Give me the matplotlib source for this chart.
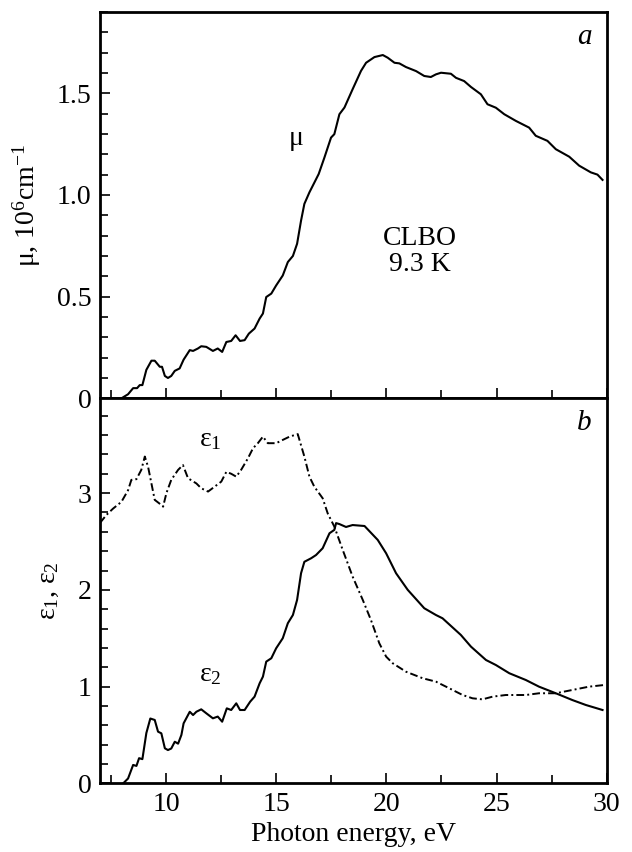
import matplotlib
matplotlib.use("Agg")
import matplotlib.pyplot as plt
from matplotlib.ticker import MultipleLocator, FixedLocator, FixedFormatter

plt.rcParams['font.family'] = ['Liberation Serif', 'DejaVu Serif']
plt.rcParams['mathtext.fontset'] = 'custom'
plt.rcParams['mathtext.rm'] = 'Liberation Serif'
plt.rcParams['mathtext.it'] = 'Liberation Serif:italic'

# absorption coefficient mu, 10^6 cm^-1
mu_E = [7.98, 8.28, 8.51, 8.69, 8.81, 8.93, 9.11, 9.34, 9.49, 9.72, 9.82, 9.95, 10.09,
        10.24, 10.40, 10.62, 10.80, 11.08, 11.23, 11.45, 11.60, 11.83, 12.13, 12.35,
        12.55, 12.74, 12.96, 13.16, 13.36, 13.57, 13.76, 14.02, 14.25, 14.40, 14.55,
        14.78, 15.00, 15.30, 15.53, 15.76, 15.95, 16.13, 16.28, 16.51, 16.73, 16.93,
        17.19, 17.49, 17.64, 17.87, 18.10, 18.47, 18.85, 19.08, 19.46, 19.84, 20.06,
        20.37, 20.59, 20.89, 21.35, 21.72, 22.02, 22.25, 22.48, 22.93, 23.16, 23.53,
        23.84, 24.29, 24.59, 24.97, 25.35, 25.88, 26.48, 26.78, 27.31, 27.69, 28.30,
        28.75, 29.28, 29.58, 29.81]
mu = [0.0, 0.02, 0.05, 0.05, 0.065, 0.065, 0.14, 0.185, 0.185, 0.155, 0.155, 0.11, 0.10,
      0.11, 0.135, 0.147, 0.19, 0.237, 0.233, 0.245, 0.256, 0.253, 0.233, 0.245,
      0.228, 0.277, 0.282, 0.31, 0.282, 0.286, 0.318, 0.343, 0.392, 0.417, 0.498,
      0.515, 0.555, 0.604, 0.67, 0.70, 0.76, 0.874, 0.956, 1.013, 1.06, 1.103,
      1.184, 1.282, 1.299, 1.397, 1.43, 1.52, 1.61, 1.65, 1.678, 1.688, 1.675,
      1.65, 1.647, 1.629, 1.609, 1.585, 1.58, 1.593, 1.601, 1.596, 1.576, 1.56,
      1.531, 1.495, 1.446, 1.429, 1.397, 1.364, 1.331, 1.291, 1.266, 1.225, 1.188,
      1.144, 1.111, 1.10, 1.074]

# imaginary part eps2
e2_E = [8.06, 8.28, 8.51, 8.66, 8.78, 8.93, 9.11, 9.29, 9.49, 9.64, 9.79, 9.95, 10.09,
        10.24, 10.40, 10.55, 10.70, 10.80, 11.08, 11.23, 11.38, 11.60, 11.83, 12.13,
        12.35, 12.55, 12.76, 12.96, 13.19, 13.36, 13.57, 13.82, 14.02, 14.25, 14.40,
        14.55, 14.78, 15.00, 15.30, 15.53, 15.76, 15.95, 16.13, 16.28, 16.59, 16.81,
        17.11, 17.42, 17.64, 17.72, 17.87, 18.17, 18.47, 19.01, 19.61, 19.99, 20.44,
        20.97, 21.72, 22.25, 22.55, 23.38, 23.84, 24.52, 24.97, 25.58, 26.33, 26.93,
        27.69, 28.44, 29.05, 29.81]
e2 = [0.0, 0.05, 0.19, 0.18, 0.26, 0.25, 0.52, 0.67, 0.655, 0.534, 0.517, 0.362, 0.344,
      0.36, 0.43, 0.41, 0.5, 0.62, 0.74, 0.706, 0.74, 0.765, 0.724, 0.672,
      0.69, 0.637, 0.775, 0.758, 0.827, 0.758, 0.758, 0.844, 0.896, 1.034, 1.103,
      1.258, 1.293, 1.396, 1.50, 1.655, 1.74, 1.896, 2.172, 2.29, 2.327, 2.36,
      2.43, 2.585, 2.62, 2.69, 2.68, 2.65, 2.67, 2.66, 2.516, 2.378, 2.172,
      2.0, 1.81, 1.74, 1.706, 1.534, 1.413, 1.275, 1.223, 1.138, 1.068, 0.999,
      0.931, 0.861, 0.81, 0.758]

# real part eps1
e1_E = [7.0, 7.30, 7.60, 7.98, 8.28, 8.43, 8.66, 8.88, 9.04, 9.19, 9.49, 9.69, 9.87,
        10.02, 10.24, 10.55, 10.77, 11.0, 11.38, 11.60, 11.91, 12.21, 12.51, 12.74,
        12.96, 13.19, 13.41, 13.72, 13.95, 14.17, 14.40, 14.62, 15.00, 15.30, 15.61,
        15.98, 16.28, 16.51, 16.73, 17.11, 17.34, 17.64, 18.02, 18.47, 18.93, 19.30,
        19.68, 19.99, 20.29, 20.89, 21.65, 22.25, 22.86, 23.46, 23.91, 24.36, 24.82,
        25.42, 26.33, 26.93, 27.69, 28.44, 29.19, 29.87]
e1 = [2.69, 2.775, 2.84, 2.91, 3.03, 3.137, 3.144, 3.24, 3.378, 3.27, 2.93, 2.895, 2.86,
      3.0, 3.137, 3.24, 3.29, 3.154, 3.10, 3.05, 3.016, 3.067, 3.119, 3.22,
      3.20, 3.17, 3.24, 3.36, 3.464, 3.516, 3.584, 3.516, 3.516, 3.55, 3.584,
      3.61, 3.378, 3.17, 3.067, 2.947, 2.79, 2.654, 2.413, 2.137, 1.896, 1.689,
      1.448, 1.31, 1.241, 1.154, 1.086, 1.051, 0.982, 0.913, 0.879, 0.868, 0.896,
      0.913, 0.913, 0.931, 0.931, 0.965, 0.999, 1.016]

mu_ticks = [0, 0.5, 1.0, 1.5]
mu_labels = ['0', '0.5', '1.0', '1.5']
eps_ticks = [0, 1, 2, 3]
eps_labels = ['0', '1', '2', '3']

FS = 20

fig = plt.figure(figsize=(6.32, 8.52), dpi=100)
ax1 = fig.add_axes([0.158, 0.5325, 0.802, 0.4535])
ax2 = fig.add_axes([0.158, 0.0806, 0.802, 0.4519], sharex=ax1)

lw = 1.5
ax1.plot(mu_E, mu, color='black', lw=lw)
ax2.plot(e2_E, e2, color='black', lw=lw)
# dash-dot for eps1
ax2.plot(e1_E, e1, color='black', lw=1.4, linestyle=(0, (4, 1.6, 1, 1.6)))

ax1.set_xlim(7, 30)
ax1.set_ylim(0, 1.9)
ax2.set_ylim(0, 3.98)

for ax in (ax1, ax2):
    for s in ax.spines.values():
        s.set_linewidth(2)
    ax.xaxis.set_major_locator(MultipleLocator(5))
    ax.xaxis.set_minor_locator(MultipleLocator(2.5))
    ax.tick_params(which='both', direction='in', top=False, right=False,
                   labelsize=FS, width=1.2, pad=6)
    ax.tick_params(which='major', length=7.5)
    ax.tick_params(which='minor', length=5.5)

ax1.yaxis.set_major_locator(FixedLocator(mu_ticks))
ax1.yaxis.set_major_formatter(FixedFormatter(mu_labels))
ax1.yaxis.set_minor_locator(MultipleLocator(0.1))
ax1.tick_params(axis='x', labelbottom=False)

ax2.yaxis.set_major_locator(FixedLocator(eps_ticks))
ax2.yaxis.set_major_formatter(FixedFormatter(eps_labels))
ax2.yaxis.set_minor_locator(MultipleLocator(0.2))

ax1.set_ylabel(r'μ, 10$^6$cm$^{-1}$', fontsize=FS, labelpad=10)
ax2.set_ylabel(r'ε$_1$, ε$_2$', fontsize=FS, labelpad=12)
ax2.set_xlabel('Photon energy, eV', fontsize=FS, labelpad=4)

ax1.text(15.9, 1.28, 'μ', fontsize=FS, ha='center', va='center')
ax1.text(21.5, 0.72, 'CLBO\n9.3 K', fontsize=FS, ha='center', va='center',
         linespacing=1.05)
ax1.text(0.97, 0.97, 'a', transform=ax1.transAxes, fontsize=21,
         style='italic', ha='right', va='top')
ax2.text(0.97, 0.97, 'b', transform=ax2.transAxes, fontsize=21,
         style='italic', ha='right', va='top')
ax2.text(12.0, 3.55, r'ε$_1$', fontsize=FS, ha='center', va='center')
ax2.text(12.0, 1.12, r'ε$_2$', fontsize=FS, ha='center', va='center')

fig.savefig('out.png', dpi=100)
